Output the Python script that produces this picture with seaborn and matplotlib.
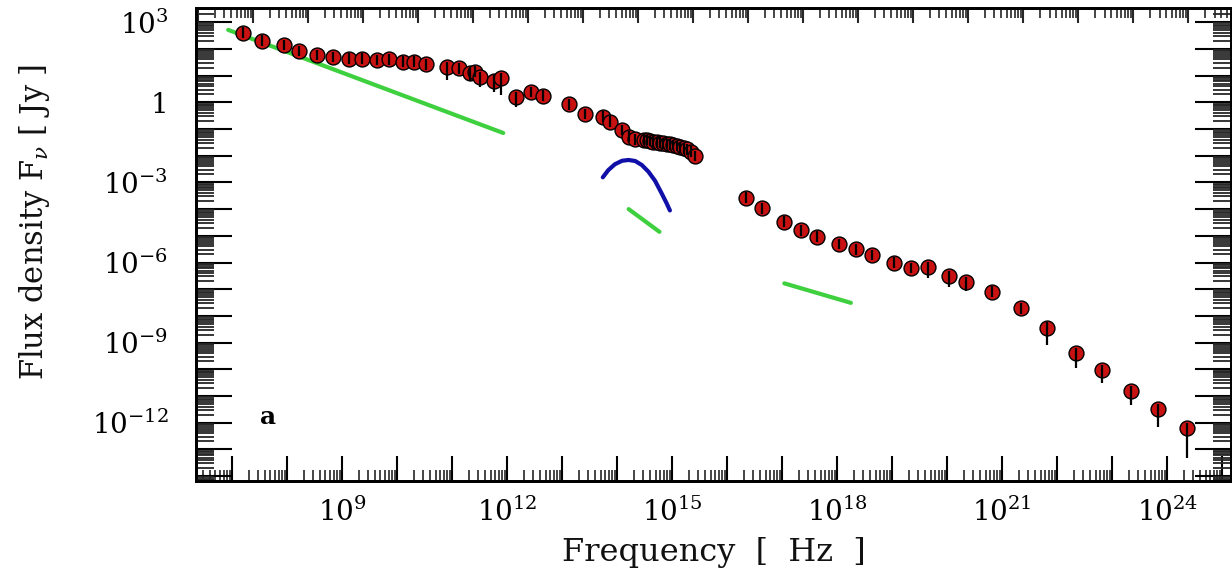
import numpy as np
import pandas as pd
import matplotlib
matplotlib.use("Agg")
import matplotlib.pyplot as plt
import seaborn as sns
from matplotlib.ticker import FixedLocator, LogLocator, FuncFormatter, NullFormatter

# ---------------- data (log10 values) ----------------
# observed SED points: log10 frequency [Hz], log10 flux density [Jy]
obs_log_nu = [7.20, 7.54, 7.95, 8.22, 8.54, 8.83, 9.13, 9.37, 9.63, 9.86,
              10.10, 10.30, 10.53, 10.90, 11.13, 11.33, 11.42, 11.51, 11.76, 11.89,
              12.16, 12.44, 12.66, 13.12, 13.41, 13.74, 13.87, 14.09, 14.21, 14.33,
              14.48, 14.54, 14.60, 14.66, 14.72, 14.78, 14.84, 14.90, 14.96, 15.02,
              15.08, 15.15, 15.21, 15.27, 15.34, 15.42,
              16.35, 16.64, 17.04, 17.34, 17.64, 18.04, 18.35, 18.64, 19.04, 19.34,
              19.65, 20.04, 20.35, 20.82, 21.35, 21.82, 22.35, 22.82, 23.34, 23.83, 24.36]
obs_log_flux = [2.61, 2.31, 2.14, 1.92, 1.77, 1.69, 1.63, 1.63, 1.58, 1.61,
                1.52, 1.52, 1.42, 1.31, 1.27, 1.11, 1.15, 0.94, 0.81, 0.90,
                0.19, 0.38, 0.25, -0.08, -0.44, -0.54, -0.73, -1.04, -1.29, -1.39,
                -1.40, -1.41, -1.45, -1.48, -1.50, -1.51, -1.54, -1.56, -1.58, -1.60,
                -1.64, -1.69, -1.72, -1.76, -1.85, -2.01,
                -3.57, -3.97, -4.47, -4.79, -5.03, -5.31, -5.51, -5.72, -6.01, -6.21,
                -6.18, -6.52, -6.74, -7.09, -7.72, -8.44, -9.40, -10.04, -10.81, -11.49, -12.21]
# error bar extents (dex) below / above each point
obs_err_lo = [0.2, 0.2, 0.2, 0.2, 0.2, 0.2, 0.2, 0.2, 0.2, 0.2,
              0.2, 0.2, 0.2, 0.48, 0.2, 0.31, 0.2, 0.36, 0.42, 0.63,
              0.36, 0.2, 0.2, 0.2, 0.2, 0.2, 0.2, 0.2, 0.2, 0.2,
              0.2, 0.2, 0.2, 0.2, 0.2, 0.2, 0.2, 0.2, 0.2, 0.2,
              0.2, 0.2, 0.2, 0.2, 0.2, 0.2,
              0.2, 0.2, 0.2, 0.2, 0.2, 0.2, 0.2, 0.2, 0.2, 0.2,
              0.40, 0.40, 0.33, 0.2, 0.2, 0.65, 0.55, 0.47, 0.53, 0.67, 1.11]
obs_err_hi = [0.2] * len(obs_log_nu)

# green power-law components
pl1_log_nu = [6.93, 11.93]
pl1_log_flux = [2.71, -1.15]
pl2_log_nu = [14.21, 14.77]
pl2_log_flux = [-4.00, -4.85]
pl3_log_nu = [17.04, 18.25]
pl3_log_flux = [-6.78, -7.51]

# blue thermal (disc) component
bump_log_nu = [13.74, 13.84, 13.96, 14.09, 14.21, 14.33, 14.45, 14.57, 14.69, 14.81, 14.90, 14.96]
bump_log_flux = [-2.81, -2.54, -2.32, -2.19, -2.16, -2.20, -2.35, -2.60, -2.94, -3.41, -3.78, -4.05]

x_label = "Frequency  [  Hz  ]"
y_label = r"Flux density F$_\nu$ [ Jy ]"
panel_tag = "a"

# ---------------- styling ----------------
sns.set_theme(style="white")
plt.rcParams["font.family"] = ["DejaVu Serif"]
plt.rcParams["mathtext.fontset"] = "dejavuserif"

RED = "#c81212"
GREEN = "#3ed03e"
BLUE = "#1010a8"

W, H = 1232, 581
fig = plt.figure(figsize=(W / 100, H / 100), dpi=100)
ax = fig.add_axes([196 / W, 1 - 481 / H, (1231 - 196) / W, (481 - 8) / H])
ax.set_xscale("log")
ax.set_yscale("log")

pts = pd.DataFrame({"nu": 10.0 ** np.array(obs_log_nu),
                    "flux": 10.0 ** np.array(obs_log_flux)})

def comp(lx, ly):
    return pd.DataFrame({"nu": 10.0 ** np.array(lx), "flux": 10.0 ** np.array(ly)})

for lx, ly in [(pl1_log_nu, pl1_log_flux), (pl2_log_nu, pl2_log_flux), (pl3_log_nu, pl3_log_flux)]:
    sns.lineplot(data=comp(lx, ly), x="nu", y="flux", ax=ax, color=GREEN, lw=3,
                 sort=False, estimator=None, zorder=2)
sns.lineplot(data=comp(bump_log_nu, bump_log_flux), x="nu", y="flux", ax=ax, color=BLUE,
             lw=3, sort=False, estimator=None, zorder=2)

sns.scatterplot(data=pts, x="nu", y="flux", ax=ax, color=RED, edgecolor="black",
                s=115, linewidth=1.0, zorder=3)
lo = pts["flux"].values / 10.0 ** np.array(obs_err_lo)
hi = pts["flux"].values * 10.0 ** np.array(obs_err_hi)
ax.vlines(pts["nu"].values, lo, hi, color="black", lw=1.6, zorder=4)

ax.set_xlim(10 ** 6.345, 10 ** 25.16)
ax.set_ylim(10 ** -14.18, 10 ** 3.53)

def fmt(v, p):
    k = int(round(np.log10(v)))
    if k % 3 != 0:
        return ""
    if k == 0:
        return "1"
    return r"$10^{%d}$" % k

ax.xaxis.set_major_locator(FixedLocator([10.0 ** k for k in range(7, 26)]))
ax.yaxis.set_major_locator(FixedLocator([10.0 ** k for k in range(-14, 4)]))
ax.xaxis.set_major_formatter(FuncFormatter(fmt))
ax.yaxis.set_major_formatter(FuncFormatter(fmt))
ax.xaxis.set_minor_locator(LogLocator(base=10, subs=np.arange(2, 10), numticks=300))
ax.yaxis.set_minor_locator(LogLocator(base=10, subs=np.arange(2, 10), numticks=300))
ax.xaxis.set_minor_formatter(NullFormatter())
ax.yaxis.set_minor_formatter(NullFormatter())

ax.tick_params(axis="x", which="major", direction="in", length=18, width=1.5,
               top=False, bottom=True, labelsize=20, pad=12, colors="black")
ax.tick_params(axis="x", which="minor", direction="in", length=8, width=1.2,
               top=False, bottom=True)
ax.tick_params(axis="y", which="major", direction="in", length=26, width=1.5,
               left=True, right=True, labelsize=20, pad=20, colors="black")
ax.tick_params(axis="y", which="minor", direction="in", length=13, width=1.3,
               left=True, right=True)

# top axis: photon energy decades (unlabelled)
h_ev = 4.1357e-15
top = ax.twiny()
top.set_xscale("log")
top.set_xlim(ax.get_xlim()[0] * h_ev, ax.get_xlim()[1] * h_ev)
top.xaxis.set_major_locator(FixedLocator([10.0 ** k for k in range(-8, 11)]))
top.xaxis.set_minor_locator(LogLocator(base=10, subs=np.arange(2, 10), numticks=300))
top.xaxis.set_major_formatter(NullFormatter())
top.xaxis.set_minor_formatter(NullFormatter())
top.tick_params(axis="x", which="major", direction="in", length=11, width=1.5)
top.tick_params(axis="x", which="minor", direction="in", length=7, width=1.2)
top.set_xlabel("")

for a in (ax, top):
    for s in a.spines.values():
        s.set_color("black")
        s.set_linewidth(2)

ax.set_xlabel("")
ax.set_ylabel("")
fig.text(714 / W, 1 - 553 / H, x_label, ha="center", va="center", fontsize=23, color="#111111")
fig.text(35 / W, 1 - 222 / H, y_label, ha="center", va="center", rotation=90,
         fontsize=22, color="#111111")
ax.text(0.07, 0.135, panel_tag, transform=ax.transAxes, fontsize=18, fontweight="bold",
        ha="center", va="center", color="black")

fig.savefig("out.png", dpi=100)
